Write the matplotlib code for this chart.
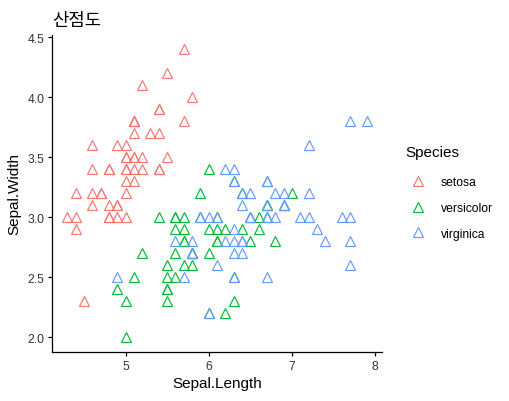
import matplotlib
matplotlib.use("Agg")
import matplotlib.pyplot as plt
from matplotlib.lines import Line2D

plt.rcParams['font.family'] = ['Liberation Sans', 'Noto Sans CJK KR', 'DejaVu Sans']

species = ["setosa", "versicolor", "virginica"]
colors = ["#F8766D", "#00BA38", "#619CFF"]

setosa_len = [5.1,4.9,4.7,4.6,5.0,5.4,4.6,5.0,4.4,4.9,5.4,4.8,4.8,4.3,5.8,5.7,5.4,5.1,5.7,5.1,5.4,5.1,4.6,5.1,4.8,5.0,5.0,5.2,5.2,4.7,4.8,5.4,5.2,5.5,4.9,5.0,5.5,4.9,4.4,5.1,5.0,4.5,4.4,5.0,5.1,4.8,5.1,4.6,5.3,5.0]
setosa_wid = [3.5,3.0,3.2,3.1,3.6,3.9,3.4,3.4,2.9,3.1,3.7,3.4,3.0,3.0,4.0,4.4,3.9,3.5,3.8,3.8,3.4,3.7,3.6,3.3,3.4,3.0,3.4,3.5,3.4,3.2,3.1,3.4,4.1,4.2,3.1,3.2,3.5,3.6,3.0,3.4,3.5,2.3,3.2,3.5,3.8,3.0,3.8,3.2,3.7,3.3]
versicolor_len = [7.0,6.4,6.9,5.5,6.5,5.7,6.3,4.9,6.6,5.2,5.0,5.9,6.0,6.1,5.6,6.7,5.6,5.8,6.2,5.6,5.9,6.1,6.3,6.1,6.4,6.6,6.8,6.7,6.0,5.7,5.5,5.5,5.8,6.0,5.4,6.0,6.7,6.3,5.6,5.5,5.5,6.1,5.8,5.0,5.6,5.7,5.7,6.2,5.1,5.7]
versicolor_wid = [3.2,3.2,3.1,2.3,2.8,2.8,3.3,2.4,2.9,2.7,2.0,3.0,2.2,2.9,2.9,3.1,3.0,2.7,2.2,2.5,3.2,2.8,2.5,2.8,2.9,3.0,2.8,3.0,2.9,2.6,2.4,2.4,2.7,2.7,3.0,3.4,3.1,2.3,3.0,2.5,2.6,3.0,2.6,2.3,2.7,3.0,2.9,2.9,2.5,2.8]
virginica_len = [6.3,5.8,7.1,6.3,6.5,7.6,4.9,7.3,6.7,7.2,6.5,6.4,6.8,5.7,5.8,6.4,6.5,7.7,7.7,6.0,6.9,5.6,7.7,6.3,6.7,7.2,6.2,6.1,6.4,7.2,7.4,7.9,6.4,6.3,6.1,7.7,6.3,6.4,6.0,6.9,6.7,6.9,5.8,6.8,6.7,6.7,6.3,6.5,6.2,5.9]
virginica_wid = [3.3,2.7,3.0,2.9,3.0,3.0,2.5,2.9,2.5,3.6,3.2,2.7,3.0,2.5,2.8,3.2,3.0,3.8,2.6,2.2,3.2,2.8,2.8,2.7,3.3,3.2,2.8,3.0,2.8,3.0,2.8,3.8,2.8,2.8,2.6,3.0,3.4,3.1,3.0,3.1,3.1,3.1,2.7,3.2,3.3,3.0,2.5,3.0,3.4,3.0]

xs = [setosa_len, versicolor_len, virginica_len]
ys = [setosa_wid, versicolor_wid, virginica_wid]

x_ticks = [5, 6, 7, 8]
y_ticks = [2.0, 2.5, 3.0, 3.5, 4.0, 4.5]

W, H = 509, 402
fig = plt.figure(figsize=(W/100, H/100), dpi=100)
l, r, t, b = 52.3, 381.8, 35.9, 352.7
ax = fig.add_axes([l/W, 1-b/H, (r-l)/W, (b-t)/H])

MS = 7.2
for sx, sy, c in zip(xs, ys, colors):
    ax.plot(sx, sy, linestyle='none', marker='^', markersize=MS,
            markerfacecolor='none', markeredgecolor=c, markeredgewidth=0.85)

ax.set_xlim(4.12, 8.08)
ax.set_ylim(1.88, 4.52)
ax.set_xticks(x_ticks)
ax.set_xticklabels([str(v) for v in x_ticks])
ax.set_yticks(y_ticks)
ax.set_yticklabels([f"{v:.1f}" for v in y_ticks])

for s in ['top', 'right']:
    ax.spines[s].set_visible(False)
for s in ['left', 'bottom']:
    ax.spines[s].set_linewidth(0.9)
    ax.spines[s].set_color('black')
ax.tick_params(axis='both', length=2.7, width=0.9, color='black',
               labelsize=8.7, labelcolor='#333333', pad=3)

ax.set_xlabel("Sepal.Length", fontsize=11, labelpad=3)
ax.set_ylabel("Sepal.Width", fontsize=11, labelpad=4)
ax.set_title("산점도", loc='left', fontsize=12.8, pad=7)

handles = [Line2D([], [], linestyle='none', marker='^', markersize=MS,
                  markerfacecolor='none', markeredgecolor=c, markeredgewidth=0.85)
           for c in colors]
fig.text(405/W, 1-153/H, "Species", fontsize=11, ha='left', va='center')
leg = fig.legend(handles, species, loc='upper left',
                 bbox_to_anchor=(403/W, 1-172/H), frameon=False,
                 fontsize=8.7, handletextpad=1.1, labelspacing=1.15,
                 handlelength=1.6, borderaxespad=0)

fig.savefig("out.png", dpi=100)
